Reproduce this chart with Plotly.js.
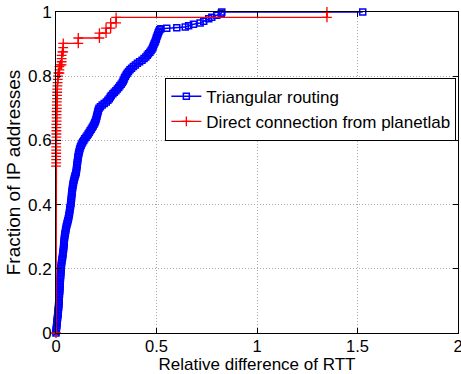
<!DOCTYPE html>
<html>
<head>
<meta charset="utf-8">
<script src="https://cdn.plot.ly/plotly-3.0.1.min.js"></script>
<style>
  html, body { margin: 0; padding: 0; background: #fff; }
  #chart { width: 461px; height: 374px; }
</style>
</head>
<body>
<div id="chart"></div>
<script>
// Empirical CDF of the relative RTT difference, triangular routing (stair vertices)
const triX = [
  0.000, 0.001, 0.001, 0.002, 0.003, 0.004, 0.005, 0.005, 0.006, 0.007,
  0.008, 0.009, 0.010, 0.010, 0.011, 0.012, 0.013, 0.013, 0.014, 0.014,
  0.015, 0.015, 0.016, 0.016, 0.017, 0.017, 0.018, 0.018, 0.019, 0.019,
  0.020, 0.020, 0.021, 0.021, 0.022, 0.022, 0.023, 0.023, 0.024, 0.024,
  0.025, 0.026, 0.026, 0.027, 0.028, 0.029, 0.030, 0.032, 0.033, 0.034,
  0.035, 0.036, 0.037, 0.038, 0.038, 0.039, 0.040, 0.041, 0.041, 0.042,
  0.043, 0.044, 0.045, 0.047, 0.048, 0.050, 0.051, 0.053, 0.055, 0.057,
  0.059, 0.061, 0.063, 0.064, 0.066, 0.067, 0.068, 0.069, 0.070, 0.072,
  0.073, 0.074, 0.075, 0.076, 0.077, 0.077, 0.078, 0.079, 0.080, 0.081,
  0.082, 0.083, 0.084, 0.086, 0.087, 0.089, 0.091, 0.093, 0.095, 0.098,
  0.100, 0.101, 0.102, 0.103, 0.104, 0.105, 0.106, 0.107, 0.108, 0.109,
  0.110, 0.112, 0.113, 0.115, 0.117, 0.119, 0.122, 0.125, 0.129, 0.133,
  0.138, 0.143, 0.149, 0.155, 0.160, 0.165, 0.170, 0.175, 0.180, 0.185,
  0.189, 0.193, 0.196, 0.199, 0.201, 0.203, 0.205, 0.207, 0.209, 0.211,
  0.214, 0.221, 0.230, 0.240, 0.250, 0.258, 0.265, 0.270, 0.275, 0.283,
  0.290, 0.298, 0.305, 0.312, 0.318, 0.324, 0.330, 0.334, 0.338, 0.341,
  0.345, 0.350, 0.355, 0.361, 0.368, 0.376, 0.385, 0.395, 0.405, 0.416,
  0.428, 0.438, 0.447, 0.454, 0.460, 0.467, 0.473, 0.478, 0.482, 0.485,
  0.488, 0.492, 0.495, 0.498, 0.500, 0.503, 0.506, 0.509, 0.512, 0.516,
  0.522, 0.551, 0.601, 0.643, 0.660, 0.684, 0.717, 0.735, 0.760, 0.775,
  0.800, 0.822, 0.825, 1.526
];
const triY = [
  0.000, 0.005, 0.010, 0.015, 0.020, 0.025, 0.030, 0.035, 0.040, 0.045,
  0.050, 0.055, 0.060, 0.065, 0.070, 0.075, 0.080, 0.085, 0.090, 0.095,
  0.100, 0.105, 0.110, 0.115, 0.120, 0.125, 0.130, 0.135, 0.140, 0.145,
  0.150, 0.155, 0.160, 0.165, 0.170, 0.175, 0.180, 0.185, 0.190, 0.195,
  0.200, 0.205, 0.210, 0.215, 0.220, 0.225, 0.230, 0.235, 0.240, 0.245,
  0.250, 0.255, 0.260, 0.265, 0.270, 0.275, 0.280, 0.285, 0.290, 0.295,
  0.300, 0.305, 0.310, 0.315, 0.320, 0.325, 0.330, 0.335, 0.340, 0.345,
  0.350, 0.355, 0.360, 0.365, 0.370, 0.375, 0.380, 0.385, 0.390, 0.395,
  0.400, 0.405, 0.410, 0.415, 0.420, 0.425, 0.430, 0.435, 0.440, 0.445,
  0.450, 0.455, 0.460, 0.465, 0.470, 0.475, 0.480, 0.485, 0.490, 0.495,
  0.500, 0.505, 0.510, 0.515, 0.520, 0.525, 0.530, 0.535, 0.540, 0.545,
  0.550, 0.555, 0.560, 0.565, 0.570, 0.575, 0.580, 0.585, 0.590, 0.595,
  0.600, 0.605, 0.610, 0.615, 0.620, 0.625, 0.630, 0.635, 0.640, 0.645,
  0.650, 0.655, 0.660, 0.665, 0.670, 0.675, 0.680, 0.685, 0.690, 0.695,
  0.700, 0.705, 0.710, 0.715, 0.720, 0.725, 0.730, 0.735, 0.740, 0.745,
  0.750, 0.755, 0.760, 0.765, 0.770, 0.775, 0.780, 0.785, 0.790, 0.795,
  0.800, 0.805, 0.810, 0.815, 0.820, 0.825, 0.830, 0.835, 0.840, 0.845,
  0.850, 0.855, 0.860, 0.865, 0.870, 0.875, 0.880, 0.885, 0.890, 0.895,
  0.900, 0.905, 0.910, 0.915, 0.920, 0.925, 0.930, 0.935, 0.940, 0.945,
  0.948, 0.949, 0.951, 0.953, 0.957, 0.962, 0.966, 0.971, 0.979, 0.984,
  0.990, 0.996, 1.000, 1.000
];

// Empirical CDF, direct connection from planetlab (stair vertices)
const dirX = [
  0.000, 0.000, 0.001, 0.001, 0.001, 0.001, 0.001, 0.001, 0.001, 0.001,
  0.002, 0.002, 0.002, 0.002, 0.002, 0.003, 0.003, 0.003, 0.003, 0.004,
  0.004, 0.004, 0.005, 0.005, 0.006, 0.006, 0.007, 0.008, 0.009, 0.010,
  0.012, 0.017, 0.017, 0.017, 0.022, 0.028, 0.028, 0.028, 0.028, 0.032,
  0.036, 0.036, 0.036, 0.111, 0.111, 0.216, 0.216, 0.249, 0.249, 0.272,
  0.272, 0.299, 0.299, 1.348, 1.348
];
const dirY = [
  0.000, 0.520, 0.530, 0.540, 0.550, 0.560, 0.570, 0.580, 0.590, 0.600,
  0.610, 0.620, 0.630, 0.640, 0.650, 0.660, 0.670, 0.680, 0.690, 0.700,
  0.710, 0.720, 0.730, 0.740, 0.750, 0.760, 0.770, 0.780, 0.790, 0.800,
  0.810, 0.810, 0.820, 0.830, 0.835, 0.835, 0.845, 0.855, 0.865, 0.876,
  0.876, 0.889, 0.902, 0.902, 0.919, 0.919, 0.934, 0.934, 0.950, 0.950,
  0.966, 0.966, 0.983, 0.983, 1.000
];

const xTickVals = [0, 0.5, 1, 1.5, 2];
const xTickText = ['0', '0.5', '1', '1.5', '2'];
const yTickVals = [0, 0.2, 0.4, 0.6, 0.8, 1];
const yTickText = ['0', '0.2', '0.4', '0.6', '0.8', '1'];

const FONT = 'Liberation Sans, Arial, Helvetica, sans-serif';

const traces = [
  {
    x: triX, y: triY,
    type: 'scatter', mode: 'lines+markers',
    name: 'Triangular routing',
    line: { color: '#0000ff', width: 1.5 },
    marker: { symbol: 'square-open', size: 6, color: '#0000ff', line: { width: 1.5, color: '#0000ff' } },
    cliponaxis: false
  },
  {
    x: dirX, y: dirY,
    type: 'scatter', mode: 'lines+markers',
    name: 'Direct connection from planetlab',
    line: { color: '#ff0000', width: 1.3 },
    marker: { symbol: 'cross-thin-open', size: 7, color: '#ff0000', line: { width: 1.3, color: '#ff0000' } },
    cliponaxis: false
  }
];

const axisCommon = {
  showline: true, linecolor: '#000', linewidth: 1, mirror: 'ticks',
  ticks: 'inside', ticklen: 5, tickwidth: 1, tickcolor: '#000',
  showgrid: true, gridcolor: '#a8a8a8', gridwidth: 1, griddash: '1px,2px',
  zeroline: false, tickmode: 'array', ticklabeloverflow: 'allow',
  tickfont: { family: FONT, size: 17, color: '#000' }
};

const layout = {
  width: 461, height: 374,
  margin: { l: 56, r: 3, t: 12, b: 41 },
  paper_bgcolor: '#fff', plot_bgcolor: '#fff',
  font: { family: FONT, size: 17, color: '#000' },
  showlegend: true,
  legend: {
    x: 0.272, y: 0.795, xanchor: 'left', yanchor: 'top',
    bgcolor: '#fff', bordercolor: '#000', borderwidth: 1,
    font: { family: FONT, size: 17, color: '#000' },
    itemwidth: 30, tracegroupgap: 0
  },
  xaxis: Object.assign({}, axisCommon, {
    range: [0, 2], tickvals: xTickVals, ticktext: xTickText,
    ticklabelstandoff: -2,
    tickfont: { family: FONT, size: 16.5, color: '#000' },
    title: { text: 'Relative difference of RTT', font: { family: FONT, size: 17, color: '#000' }, standoff: 2 }
  }),
  yaxis: Object.assign({}, axisCommon, {
    range: [0, 1], tickvals: yTickVals, ticktext: yTickText,
    title: { text: '\u00a0\u00a0\u00a0\u00a0Fraction of IP addresses', font: { family: FONT, size: 19, color: '#000' }, standoff: 2 }
  })
};

Plotly.newPlot('chart', traces, layout, { staticPlot: true, displayModeBar: false });
</script>
</body>
</html>
